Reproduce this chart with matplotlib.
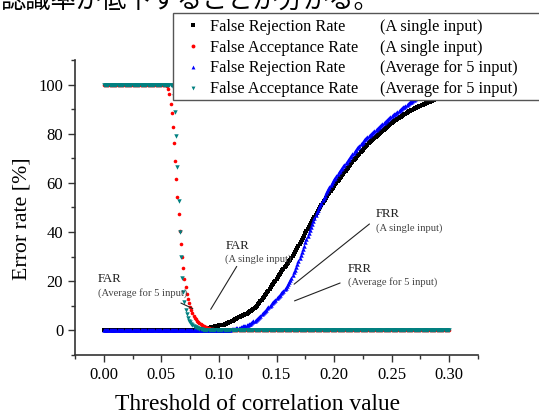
import numpy as np
import matplotlib.pyplot as plt
from matplotlib.ticker import MultipleLocator, FormatStrFormatter
from matplotlib.patches import Rectangle
from matplotlib.lines import Line2D

plt.rcParams['font.family'] = ['Liberation Serif', 'DejaVu Serif']

# threshold of correlation value, 0.000 .. 0.300
thresholds = np.round(np.arange(301) * 0.001, 3)

# False Rejection Rate, a single input (black)
frr_single = [0.0] * 80 + [
    0.1, 0.1, 0.2, 0.2, 0.3, 0.4, 0.5, 0.6, 0.7, 0.8,
    0.9, 1.0, 1.1, 1.2, 1.3, 1.4, 1.5, 1.6, 1.7, 1.9,
    2.0, 2.1, 2.2, 2.3, 2.4, 2.6, 2.7, 2.9, 3.1, 3.3,
    3.5, 3.8, 4.0, 4.3, 4.5, 4.8, 5.0, 5.3, 5.5, 5.7,
    5.9, 6.1, 6.3, 6.6, 6.8, 7.1, 7.4, 7.8, 8.1, 8.5,
    8.8, 9.2, 9.6, 10.1, 10.6, 11.2, 11.8, 12.4, 13.1, 13.7,
    14.3, 14.9, 15.5, 16.2, 16.9, 17.6, 18.3, 19.0, 19.7, 20.3,
    21.0, 21.7, 22.4, 23.0, 23.7, 24.4, 25.0, 25.6, 26.2, 26.9,
    27.5, 28.1, 28.7, 29.4, 30.2, 31.0, 31.8, 32.6, 33.4, 34.2,
    35.0, 35.9, 36.8, 37.7, 38.6, 39.5, 40.3, 41.2, 42.0, 42.9,
    43.8, 44.6, 45.4, 46.2, 47.0, 47.8, 48.6, 49.4, 50.2, 51.0,
    51.8, 52.5, 53.2, 53.9, 54.6, 55.3, 56.0, 56.7, 57.4, 58.1,
    58.8, 59.4, 60.0, 60.7, 61.3, 62.0, 62.6, 63.2, 63.8, 64.4,
    65.0, 65.6, 66.2, 66.8, 67.4, 68.0, 68.6, 69.2, 69.7, 70.3,
    70.8, 71.4, 71.9, 72.5, 73.0, 73.5, 74.1, 74.6, 75.1, 75.6,
    76.1, 76.5, 77.0, 77.4, 77.9, 78.3, 78.8, 79.2, 79.6, 80.0,
    80.5, 80.9, 81.3, 81.7, 82.1, 82.5, 82.9, 83.3, 83.7, 84.0,
    84.4, 84.7, 85.1, 85.4, 85.7, 86.0, 86.4, 86.7, 87.0, 87.3,
    87.6, 87.9, 88.2, 88.5, 88.8, 89.1, 89.3, 89.6, 89.8, 90.1,
    90.3, 90.5, 90.8, 91.0, 91.2, 91.4, 91.6, 91.8, 92.0, 92.2,
    92.4, 92.6, 92.8, 93.0, 93.2, 93.4, 93.6, 93.8, 94.0, 94.2,
    94.4, 94.6, 94.8, 95.0, 95.2, 95.4, 95.6, 95.8, 96.0, 96.2,
    96.4,
]

# False Acceptance Rate, a single input (red)
far_single = [100.0] * 55 + [
    99.5, 98.0, 96.0, 92.3, 88.3,
    82.6, 76.2, 69.0, 61.6, 54.3, 47.5, 40.4, 35.1, 29.7, 25.2,
    20.9, 17.5, 15.0, 12.8, 11.0, 9.5, 8.2, 7.0, 6.0, 5.2,
    4.5, 3.9, 3.4, 2.9, 2.5, 2.2, 1.9, 1.6, 1.4, 1.2,
    1.0, 0.85, 0.7, 0.6, 0.5, 0.4, 0.3, 0.25, 0.2, 0.15,
    0.1, 0.1, 0.05,
] + [0.0] * 198

# False Rejection Rate, average for 5 input (blue)
frr_avg = [0.0] * 105 + [
    0.1, 0.1, 0.2, 0.2, 0.3,
    0.3, 0.4, 0.5, 0.6, 0.7, 0.8, 0.9, 1.0, 1.1, 1.3,
    1.4, 1.6, 1.7, 1.9, 2.1, 2.3, 2.6, 2.8, 3.1, 3.4,
    3.7, 4.0, 4.3, 4.7, 5.1, 5.6, 6.0, 6.5, 7.0, 7.5,
    8.0, 8.5, 9.0, 9.5, 10.0, 10.5, 11.0, 11.5, 12.0, 12.5,
    13.0, 13.5, 14.0, 14.5, 15.1, 15.7, 16.2, 16.8, 17.4, 18.0,
    18.8, 19.7, 20.6, 21.5, 22.5, 23.6, 24.7, 25.8, 27.0, 28.2,
    29.5, 30.8, 32.0, 33.3, 34.5, 35.8, 37.0, 38.3, 39.6, 40.8,
    42.0, 43.2, 44.4, 45.6, 46.8, 48.0, 49.0, 50.0, 51.0, 52.0,
    53.0, 53.9, 54.8, 55.7, 56.6, 57.5, 58.4, 59.2, 60.0, 60.8,
    61.5, 62.2, 62.9, 63.6, 64.3, 65.0, 65.6, 66.2, 66.8, 67.4,
    68.0, 68.6, 69.2, 69.8, 70.4, 71.0, 71.6, 72.2, 72.8, 73.4,
    74.0, 74.6, 75.1, 75.7, 76.2, 76.8, 77.3, 77.8, 78.3, 78.7,
    79.1, 79.6, 80.0, 80.4, 80.8, 81.2, 81.6, 82.0, 82.4, 82.8,
    83.2, 83.6, 84.0, 84.4, 84.8, 85.2, 85.6, 86.0, 86.4, 86.8,
    87.2, 87.5, 87.9, 88.2, 88.6, 88.9, 89.3, 89.6, 90.0, 90.3,
    90.7, 91.0, 91.4, 91.7, 92.1, 92.4, 92.8, 93.1, 93.4, 93.8,
    94.1, 94.4, 94.8, 95.1, 95.4, 95.7, 96.0, 96.3, 96.6, 96.9,
    97.1, 97.4, 97.7, 97.9, 98.2, 98.4, 98.7, 98.9, 99.1, 99.3,
    99.5, 99.7, 99.8, 99.9,
] + [100.0] * 7

# False Acceptance Rate, average for 5 input (teal)
far_avg = [100.0] * 59 + [
    99.7,
    99.0, 95.5, 89.0, 79.0, 66.5, 52.5, 40.0, 30.0, 21.5, 15.5,
    11.5, 8.5, 6.5, 5.0, 4.0, 3.3, 2.7, 2.2, 1.8, 1.5,
    1.2, 1.0, 0.8, 0.6, 0.5, 0.4, 0.3, 0.2, 0.15, 0.1,
    0.05,
] + [0.0] * 210

series_names = ["False Rejection Rate", "False Acceptance Rate",
                "False Rejection Rate", "False Acceptance Rate"]
series_notes = ["(A single input)", "(A single input)",
                "(Average for 5 input)", "(Average for 5 input)"]

W, H = 539, 415
fig = plt.figure(figsize=(W / 100, H / 100), dpi=100)
ax = fig.add_axes([75 / W, 60 / H, 403 / W, 295 / H])

styles = [
    dict(marker='s', ms=2.3, color='black'),
    dict(marker='o', ms=2.6, color='red'),
    dict(marker='^', ms=3.2, color='blue'),
    dict(marker='v', ms=3.2, color='#008080'),
]
for ys, st in zip([frr_single, far_single, frr_avg, far_avg], styles):
    ax.plot(thresholds, ys, ls='none', mew=0, **st)

ax.set_xlim(-0.025, 0.325)
ax.set_ylim(-10, 110)
ax.xaxis.set_major_locator(MultipleLocator(0.05))
ax.xaxis.set_minor_locator(MultipleLocator(0.025))
ax.xaxis.set_major_formatter(FormatStrFormatter('%.2f'))
ax.yaxis.set_major_locator(MultipleLocator(20))
ax.yaxis.set_minor_locator(MultipleLocator(10))
ax.tick_params(which='major', direction='out', length=5, width=1.0,
               labelsize=12, color='#333333')
ax.tick_params(which='minor', direction='out', length=3, width=1.0,
               color='#333333')
for s in ['top', 'right']:
    ax.spines[s].set_visible(False)
for s in ['left', 'bottom']:
    ax.spines[s].set_linewidth(1.2)
    ax.spines[s].set_color('#333333')

fig.text(257.5 / W, 1 - 410 / H, "Threshold of correlation value",
         fontsize=16.9, ha='center', va='baseline')
fig.text(22 / W, 1 - 219 / H, "Error rate [%]", fontsize=15.7,
         rotation=90, ha='center', va='center')

# annotations
notes = [
    (-0.0052, 19.7, 14.0, "FAR", "(Average for 5 input)", (0.0648, 11.6), (0.0795, 8.4)),
    (0.1055, 33.0, 27.8, "FAR", "(A single input)", (0.1167, 27.0), (0.0916, 7.6)),
    (0.236, 46.0, 40.7, "FRR", "(A single input)", (0.2326, 44.0), (0.1634, 18.1)),
    (0.2118, 23.7, 18.5, "FRR", "(Average for 5 input)", (0.2075, 19.7), (0.1634, 11.6)),
]
for x, y1, y2, big, small, p0, p1 in notes:
    ax.text(x, y1, big, fontsize=9.2, color='#222222', va='baseline')
    ax.text(x, y2, small, fontsize=7.6, color='#444444', va='baseline')
    ax.annotate('', xy=p1, xytext=p0,
                arrowprops=dict(arrowstyle='-', lw=0.8, color='#222222'))

# legend box
frame = Rectangle((173 / W, 1 - 100 / H), (545 - 173) / W, 87 / H,
                  transform=fig.transFigure, facecolor='white',
                  edgecolor='#555555', lw=1.0, zorder=3)
fig.add_artist(frame)
baselines = [31, 51.7, 72.5, 93.3]
for st, name, note, b in zip(styles, series_names, series_notes, baselines):
    fig.add_artist(Line2D([193 / W], [1 - (b - 5.5) / H], marker=st['marker'],
                          ms=2.8, mew=0, color=st['color'], ls='none',
                          transform=fig.transFigure, zorder=4))
    fig.text(210 / W, 1 - b / H, name, fontsize=11.7, va='baseline', zorder=5)
    fig.text(380 / W, 1 - b / H, note, fontsize=11.7, va='baseline', zorder=5)

# caption line from the page, cut off at the top
fig.text(0, 1 - 8 / H, "認識率が低下することが分かる。", fontsize=18.2,
         family=['Noto Sans CJK JP', 'DejaVu Sans'], va='baseline', ha='left')

fig.savefig('out.png', dpi=100)
